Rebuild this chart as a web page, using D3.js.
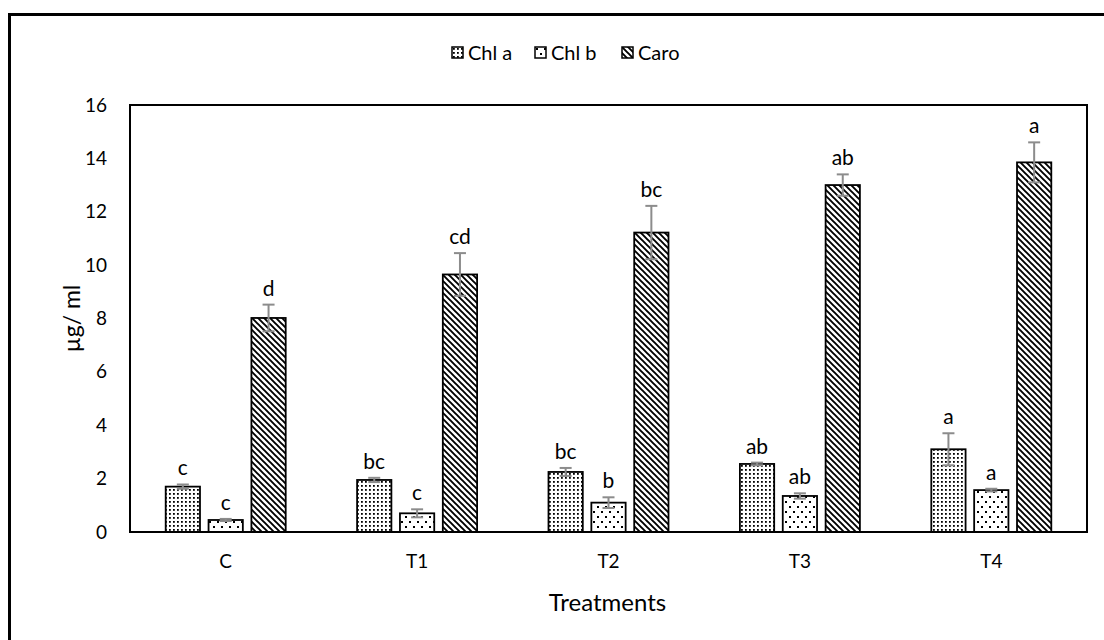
<!DOCTYPE html>
<html>
<head>
<meta charset="utf-8">
<script src="https://cdn.jsdelivr.net/npm/d3@7"></script>
<style>
  html, body { margin: 0; padding: 0; background: #fff; }
  svg { display: block; font-family: Lato, "Open Sans", sans-serif; }
</style>
</head>
<body>
<svg id="chart" width="1104" height="640"></svg>
<script>
// Pigment contents per treatment (µg/ml)
const categories = ["C", "T1", "T2", "T3", "T4"];
const series = ["Chl a", "Chl b", "Caro"];
const chlA = [1.70, 1.95, 2.25, 2.55, 3.10];
const chlB = [0.45, 0.70, 1.10, 1.35, 1.57];
const caro = [8.02, 9.65, 11.22, 13.00, 13.85];
const chlAErr = [0.08, 0.08, 0.15, 0.05, 0.60];
const chlBErr = [0.04, 0.15, 0.20, 0.10, 0.05];
const caroErr = [0.50, 0.80, 1.00, 0.40, 0.75];
const chlALetters = ["c", "bc", "bc", "ab", "a"];
const chlBLetters = ["c", "c", "b", "ab", "a"];
const caroLetters = ["d", "cd", "bc", "ab", "a"];
const yTicks = [0, 2, 4, 6, 8, 10, 12, 14, 16];

const values = [chlA, chlB, caro];
const errors = [chlAErr, chlBErr, caroErr];
const letters = [chlALetters, chlBLetters, caroLetters];
const patternIds = ["pat-chla", "pat-chlb", "pat-caro"];

const svg = d3.select("#chart");
const plot = { left: 130, right: 1087, top: 105, bottom: 532 };

// Fill patterns
const defs = svg.append("defs");
const pA = defs.append("pattern").attr("id", "pat-chla")
  .attr("patternUnits", "userSpaceOnUse").attr("width", 4).attr("height", 4);
pA.append("rect").attr("width", 4).attr("height", 4).attr("fill", "#fff");
pA.append("rect").attr("x", 1).attr("y", 1).attr("width", 1.8).attr("height", 1.8).attr("fill", "#000");

const pB = defs.append("pattern").attr("id", "pat-chlb")
  .attr("patternUnits", "userSpaceOnUse").attr("width", 8).attr("height", 10);
pB.append("rect").attr("width", 8).attr("height", 10).attr("fill", "#fff");
pB.append("rect").attr("x", 1).attr("y", 1).attr("width", 2).attr("height", 2).attr("fill", "#000");
pB.append("rect").attr("x", 5).attr("y", 6).attr("width", 2).attr("height", 2).attr("fill", "#000");

const pC = defs.append("pattern").attr("id", "pat-caro")
  .attr("patternUnits", "userSpaceOnUse").attr("width", 6).attr("height", 6);
pC.append("rect").attr("width", 6).attr("height", 6).attr("fill", "#fff");
pC.append("path").attr("d", "M-1,-1 L7,7 M-1,5 L1,7 M5,-1 L7,1")
  .attr("stroke", "#000").attr("stroke-width", 1.9);

// Outer frame
svg.append("rect")
  .attr("x", 9.5).attr("y", 14.5).attr("width", 1110).attr("height", 640)
  .attr("fill", "none").attr("stroke", "#000").attr("stroke-width", 3);

// Scales
const x = d3.scaleBand().domain(categories).range([plot.left, plot.right]);
const groupW = 120;
const xs = d3.scaleBand().domain(series).range([0, groupW]).paddingInner(0.2);
const y = d3.scaleLinear().domain([0, 16]).range([plot.bottom, plot.top]);

// Bars, error bars and letters
series.forEach((s, si) => {
  const g = svg.append("g");
  categories.forEach((c, ci) => {
    const v = values[si][ci];
    const e = errors[si][ci];
    const x0 = x(c) + (x.bandwidth() - groupW) / 2 + xs(s);
    const cx = x0 + xs.bandwidth() / 2;
    g.append("rect")
      .attr("x", x0).attr("y", y(v))
      .attr("width", xs.bandwidth()).attr("height", y(0) - y(v))
      .attr("fill", `url(#${patternIds[si]})`)
      .attr("stroke", "#000").attr("stroke-width", 1.8);
    const eg = g.append("g").attr("stroke", "#8c8c8c").attr("stroke-width", 2);
    eg.append("line").attr("x1", cx).attr("x2", cx).attr("y1", y(v + e)).attr("y2", y(v - e));
    eg.append("line").attr("x1", cx - 6).attr("x2", cx + 6).attr("y1", y(v + e)).attr("y2", y(v + e));
    eg.append("line").attr("x1", cx - 6).attr("x2", cx + 6).attr("y1", y(v - e)).attr("y2", y(v - e));
    g.append("text")
      .attr("x", cx).attr("y", y(v + e) - 9)
      .attr("text-anchor", "middle").attr("font-size", 21).attr("fill", "#000")
      .text(letters[si][ci]);
  });
});

// Plot frame
svg.append("rect")
  .attr("x", plot.left).attr("y", plot.top)
  .attr("width", plot.right - plot.left).attr("height", plot.bottom - plot.top)
  .attr("fill", "none").attr("stroke", "#000").attr("stroke-width", 2);

// Axes
const yAxis = d3.axisLeft(y).tickValues(yTicks).tickSize(0).tickPadding(23);
svg.append("g").attr("transform", `translate(${plot.left},0)`).call(yAxis)
  .call(g => g.select(".domain").remove())
  .selectAll("text").attr("font-size", 19).attr("font-family", "Lato, sans-serif").attr("fill", "#000");

const xAxis = d3.axisBottom(x).tickSize(0).tickPadding(23);
svg.append("g").attr("transform", `translate(0,${plot.bottom})`).call(xAxis)
  .call(g => g.select(".domain").remove())
  .selectAll("text").attr("font-size", 19).attr("font-family", "Lato, sans-serif").attr("fill", "#000");

// Axis titles
svg.append("text")
  .attr("x", (plot.left + plot.right) / 2 - 1).attr("y", 611)
  .attr("text-anchor", "middle").attr("font-size", 24).attr("fill", "#000")
  .text("Treatments");
svg.append("text")
  .attr("transform", `translate(80,${(plot.top + plot.bottom) / 2}) rotate(-90)`)
  .attr("text-anchor", "middle").attr("font-size", 23).attr("fill", "#000")
  .text("µg/ ml");

// Legend
const legendX = [452, 535, 622];
const legend = svg.append("g");
series.forEach((s, si) => {
  const lg = legend.append("g").attr("transform", `translate(${legendX[si]},47)`);
  lg.append("rect").attr("width", 11).attr("height", 11)
    .attr("fill", `url(#${patternIds[si]})`).attr("stroke", "#000").attr("stroke-width", 1.5);
  lg.append("text").attr("x", 16).attr("y", 12.5)
    .attr("font-size", 20).attr("fill", "#000").text(s);
});
</script>
</body>
</html>
